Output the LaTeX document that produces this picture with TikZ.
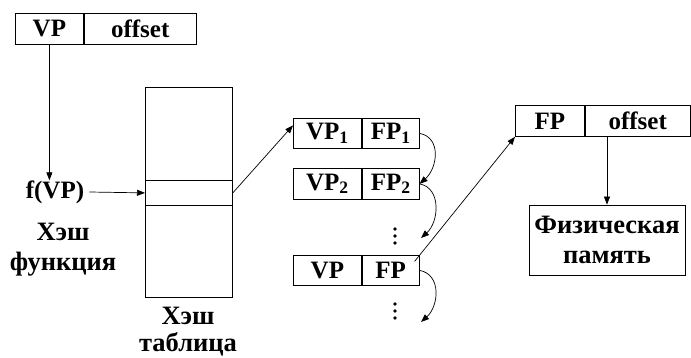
\documentclass[tikz,border=0pt]{standalone}
\usepackage{fontspec}
\setmainfont{Liberation Serif}
\usetikzlibrary{arrows.meta,calc}
\begin{document}
\begin{tikzpicture}[x=1pt,y=-1pt,
  txt/.style={font=\bfseries\fontsize{25}{28}\selectfont},
  cyr/.style={font=\bfseries\fontsize{26.5}{30}\selectfont},
  cell/.style={txt, draw, line width=0.8pt, inner sep=0pt, anchor=north west},
  lbl/.style={align=center, inner sep=0pt},
  arr/.style={-{Triangle[length=8pt,width=6pt]}, line width=0.7pt},
  dot/.style={circle, fill, inner sep=0pt, minimum size=3.8pt}]
\useasboundingbox (0,0) rectangle (691,358);

% virtual address
\node[cell, minimum width=68pt, minimum height=31pt] (vp) at (15,13) {VP};
\node[cell, minimum width=112pt, minimum height=31pt] (voff) at (vp.north east) {offset};

% hash function
\node[lbl, txt] (fvp) at (55,192) {f(VP)};
\node[lbl, cyr] (hfun) at (63,250) {Хэш\\функция};
\draw[arr] (vp.south) -- (vp.south |- fvp.north);

% hash table
\node[draw, line width=0.8pt, minimum width=87pt, minimum height=210pt, anchor=north west, inner sep=0pt] (tab) at (145,87) {};
\node[draw, line width=0.8pt, minimum width=87pt, minimum height=25pt, anchor=north west, inner sep=0pt] (slot) at (145,180) {};
\node[lbl, cyr, font=\bfseries\fontsize{26.5}{27}\selectfont] (htab) at (188,332) {Хэш\\таблица};
\draw[arr] (fvp.east) ++(5,0) -- (slot.west);

% chain of entries
\node[cell, minimum width=68pt, minimum height=30pt] (e1a) at (293,118) {VP\textsubscript{1}};
\node[cell, minimum width=57pt, minimum height=30pt] (e1b) at (e1a.north east) {FP\textsubscript{1}};
\node[cell, minimum width=68pt, minimum height=31pt] (e2a) at (293,168) {VP\textsubscript{2}};
\node[cell, minimum width=57pt, minimum height=31pt] (e2b) at (e2a.north east) {FP\textsubscript{2}};
\node[cell, minimum width=68pt, minimum height=30pt] (e3a) at (293,255) {VP};
\node[cell, minimum width=57pt, minimum height=30pt] (e3b) at (e3a.north east) {FP};

\coordinate (dots1) at (395,236);
\coordinate (dots2) at (395,311);
\foreach \c in {dots1,dots2} {
  \node[dot] at ($(\c)+(0,-7)$) {};
  \node[dot] at (\c) {};
  \node[dot] at ($(\c)+(0,7)$) {};
}
\coordinate (t1) at (421,238);
\coordinate (t2) at (421,322);

\draw[arr] (slot.east) -- ($(e1a.west)+(0,-8)$);
\draw[arr] (e1b.east) .. controls +(22,4) and +(18,-16) .. (e2b.east);
\draw[arr] (e2b.east) .. controls +(22,4) and +(18,-16) .. (t1);
\draw[arr] (e3b.east) .. controls +(22,4) and +(18,-16) .. (t2);

% physical address
\node[cell, minimum width=69pt, minimum height=31pt] (fp) at (515,105) {FP};
\node[cell, minimum width=105pt, minimum height=31pt] (foff) at (fp.north east) {offset};
\draw[arr] ($(e3b.east)+(-5,-9)$) -- (fp.south west);

% physical memory
\node[lbl, cyr, draw, line width=0.8pt, minimum width=156pt, minimum height=70pt] (mem) at (607,240) {Физическая\\память};
\draw[arr] (mem.north |- foff.south) -- (mem.north);
\end{tikzpicture}
\end{document}
